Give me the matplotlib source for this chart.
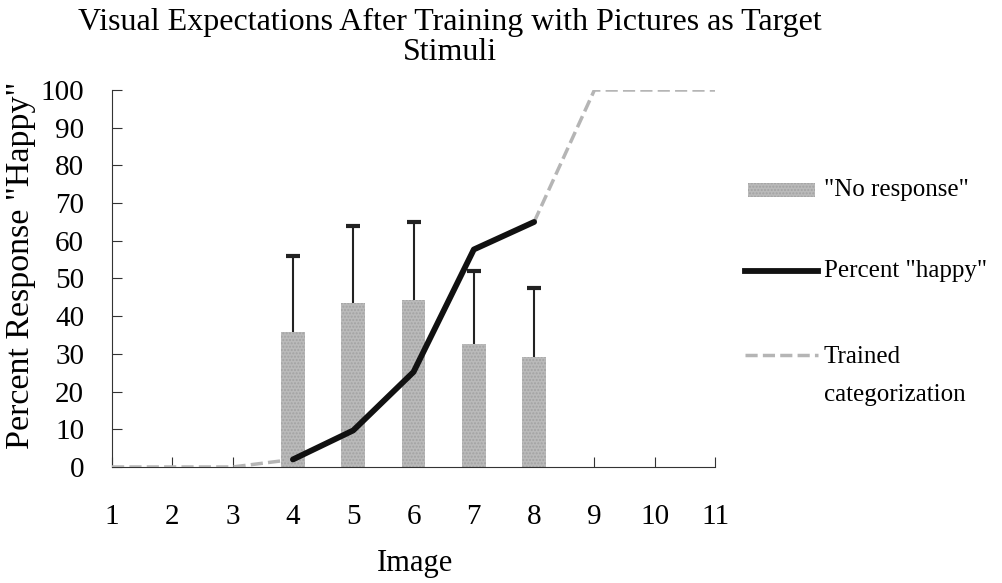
import numpy as np
import matplotlib
matplotlib.use('Agg')
import matplotlib.pyplot as plt
from matplotlib.patches import Rectangle
from matplotlib.lines import Line2D

# Data
images = [1, 2, 3, 4, 5, 6, 7, 8, 9, 10, 11]
bar_images = [4, 5, 6, 7, 8]
no_response = [35.7, 43.4, 44.3, 32.5, 29.2]
no_response_err = [20.3, 20.6, 20.7, 19.4, 18.4]
happy_images = [4, 5, 6, 7, 8]
percent_happy = [2.0, 9.7, 25.2, 57.7, 65.0]
trained = [0, 0, 0, 2.0, np.nan, np.nan, np.nan, 65, 100, 100, 100]
y_ticks = [0, 10, 20, 30, 40, 50, 60, 70, 80, 90, 100]

plt.rcParams['font.family'] = ['Liberation Serif', 'DejaVu Serif']

W, H = 1002, 583
fig = plt.figure(figsize=(W / 100, H / 100), dpi=100)
ax = fig.add_axes([0.1118, 0.199, 0.6018, 0.6466])

bar_color = '#bababa'
dash_color = '#b5b5b5'
line_color = '#111111'

# Bars with upward-only error bars
ax.bar(bar_images, no_response, width=0.39, color=bar_color, hatch='.....',
       edgecolor='#a2a2a2', linewidth=0, zorder=2)
tops = np.add(no_response, no_response_err)
ax.vlines(bar_images, no_response, tops, color='#222222', linewidth=1.5, zorder=3)
ax.plot(bar_images, tops, linestyle='none', marker='_', markersize=10,
        markeredgewidth=3, color='#222222', zorder=3)

# Trained categorization (dashed) and percent happy (solid)
ax.plot(images, trained, color=dash_color, linewidth=2.5, dashes=(3.5, 1.5), zorder=4)
ax.plot(happy_images, percent_happy, color=line_color, linewidth=4.2, zorder=5,
        solid_capstyle='round')

ax.set_xlim(1, 11)
ax.set_ylim(0, 100)
ax.set_xticks(images)
ax.set_yticks(y_ticks)
ax.spines['top'].set_visible(False)
ax.spines['right'].set_visible(False)
ax.spines['left'].set_color('#333333')
ax.spines['bottom'].set_color('#333333')
ax.tick_params(axis='x', direction='in', length=7, pad=27, labelsize=21, color='#333333')
ax.tick_params(axis='y', direction='in', length=7, pad=20, labelsize=21, color='#333333')

fig.text(415 / W, 1 - 563 / H, 'Image', fontsize=22, ha='center', va='center')
fig.text(21 / W, 1 - 265 / H, 'Percent Response "Happy"', rotation=90, fontsize=24.5,
         ha='center', va='center')

fig.text(450 / W, 1 - 8 / H, 'Visual Expectations After Training with Pictures as Target\nStimuli',
         ha='center', va='top', fontsize=23, linespacing=1.05)


# Legend drawn by hand so the dashed key lines up with the first line of its label
def px(x, y):
    return x / W, 1 - y / H


fig.add_artist(Rectangle(px(748, 197), 67 / W, 14 / H, transform=fig.transFigure,
                         facecolor=bar_color, hatch='.....', edgecolor='#a2a2a2', linewidth=0))
x0, y0 = px(745, 271)
x1, _ = px(818, 271)
fig.add_artist(Line2D([x0, x1], [y0, y0], transform=fig.transFigure,
                      color=line_color, linewidth=4.2))
x0, y0 = px(745, 355)
fig.add_artist(Line2D([x0, x1], [y0, y0], transform=fig.transFigure,
                      color=dash_color, linewidth=2.5, dashes=(3.5, 1.5)))

legend_labels = ['"No response"', 'Percent "happy"', 'Trained', 'categorization']
legend_y = [190, 271, 357, 395]
for lab, ly in zip(legend_labels, legend_y):
    tx, ty = px(824, ly)
    fig.text(tx, ty, lab, fontsize=18, ha='left', va='center')

fig.savefig('out.png', dpi=100)
